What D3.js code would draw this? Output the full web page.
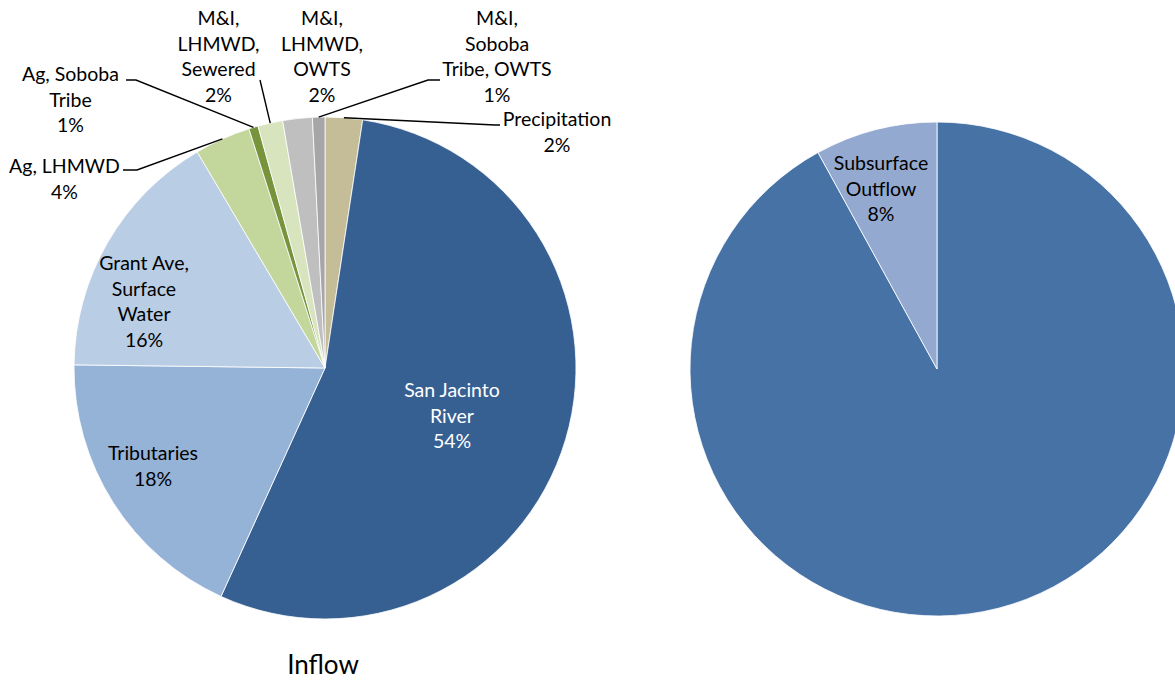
<!DOCTYPE html>
<html>
<head>
<meta charset="utf-8">
<script src="https://cdn.jsdelivr.net/npm/d3@7"></script>
<style>
  html, body { margin: 0; padding: 0; background: #fff; }
  svg { display: block; font-family: Lato, "Open Sans", sans-serif; }
</style>
</head>
<body>
<svg id="chart" width="1175" height="680"></svg>
<script>
// Inflow components, clockwise from 12 o'clock
const inflowCategories = [
  "Precipitation", "San Jacinto River", "Tributaries", "Grant Ave, Surface Water",
  "Ag, LHMWD", "Ag, Soboba Tribe", "M&I, LHMWD, Sewered", "M&I, LHMWD, OWTS",
  "M&I, Soboba Tribe, OWTS"
];
const inflowValues = [2.4, 54.4, 18.4, 16.3, 3.6, 0.6, 1.6, 1.9, 0.8];
const inflowLabelLines = [
  ["Precipitation"], ["San Jacinto", "River"], ["Tributaries"], ["Grant Ave,", "Surface", "Water"],
  ["Ag, LHMWD"], ["Ag, Soboba", "Tribe"], ["M&I,", "LHMWD,", "Sewered"], ["M&I,", "LHMWD,", "OWTS"],
  ["M&I,", "Soboba", "Tribe, OWTS"]
];
const inflowColors = [
  "#C4BD97", "#376092", "#95B3D7", "#B9CDE5", "#C3D69B", "#77933C", "#D7E4BD", "#BFBFBF", "#A6A6A6"
];

// Outflow components, clockwise from 12 o'clock
const outflowCategories = ["Other Outflow", "Subsurface Outflow"];
const outflowValues = [92, 8];
const outflowLabelLines = [null, ["Subsurface", "Outflow"]];
const outflowColors = ["#4672A6", "#94A9CF"];

// Layout of the two pies and their labels
const layout = {
  inflow: { cx: 325, cy: 368, r: 251 },
  outflow: { cx: 937, cy: 369, r: 247 },
  lineGap: 25.7,
  fontSize: 19.5
};
// label block anchors: [centre x, centre y of first line]
const inflowLabelAt = [
  [557, 119], [452, 390], [153, 453], [144, 263], [64.5, 166],
  [70.5, 74], [218.5, 18], [322, 18], [497, 18]
];
const inflowLabelFill = ["#000", "#fff", "#000", "#000", "#000", "#000", "#000", "#000", "#000"];
// leader line bends, from the label side towards the slice
const inflowLeaders = [
  [[500, 125], [495, 125]], null, null, null,
  [[123, 170], [137, 170]],
  [[126, 80], [136, 80]],
  [[260, 80]],
  null,
  [[440, 80], [428, 80]]
];
const outflowLabelAt = [null, [881, 163]];

const svg = d3.select("#chart");
const pct = d3.format(".0%");

function drawPie(values, colors, lines, labelAt, fills, leaders, geo) {
  const total = d3.sum(values);
  const pie = d3.pie().sort(null).value(d => d)(values);
  const arc = d3.arc().innerRadius(0).outerRadius(geo.r);
  const g = svg.append("g").attr("transform", `translate(${geo.cx},${geo.cy})`);

  g.selectAll("path.slice")
    .data(pie)
    .join("path")
    .attr("class", "slice")
    .attr("d", arc)
    .attr("fill", (d, i) => colors[i])
    .attr("stroke", "#fff")
    .attr("stroke-width", 0.8)
    .attr("stroke-linejoin", "round");

  // leader lines end on the outer edge at the slice's mid angle
  if (leaders) {
    pie.forEach((d, i) => {
      if (!leaders[i]) return;
      const a = (d.startAngle + d.endAngle) / 2;
      const end = [geo.cx + geo.r * Math.sin(a), geo.cy - geo.r * Math.cos(a)];
      const pts = leaders[i].concat([end]);
      svg.append("path")
        .attr("d", d3.line()(pts))
        .attr("fill", "none")
        .attr("stroke", "#000")
        .attr("stroke-width", 1.4);
    });
  }

  pie.forEach((d, i) => {
    if (!lines[i]) return;
    const [x, y] = labelAt[i];
    const rows = lines[i].concat([pct(values[i] / total)]);
    const t = svg.append("text")
      .attr("text-anchor", "middle")
      .attr("font-size", layout.fontSize)
      .attr("fill", fills ? fills[i] : "#000");
    rows.forEach((s, k) => {
      t.append("tspan")
        .attr("x", x)
        .attr("y", y + k * layout.lineGap)
        .attr("dy", "0.35em")
        .text(s);
    });
  });
}

drawPie(inflowValues, inflowColors, inflowLabelLines, inflowLabelAt, inflowLabelFill, inflowLeaders, layout.inflow);
drawPie(outflowValues, outflowColors, outflowLabelLines, outflowLabelAt, null, null, layout.outflow);

svg.append("text")
  .attr("x", 323)
  .attr("y", 665)
  .attr("dy", "0.35em")
  .attr("text-anchor", "middle")
  .attr("font-size", 26)
  .attr("fill", "#000")
  .text("Inflow");
</script>
</body>
</html>
